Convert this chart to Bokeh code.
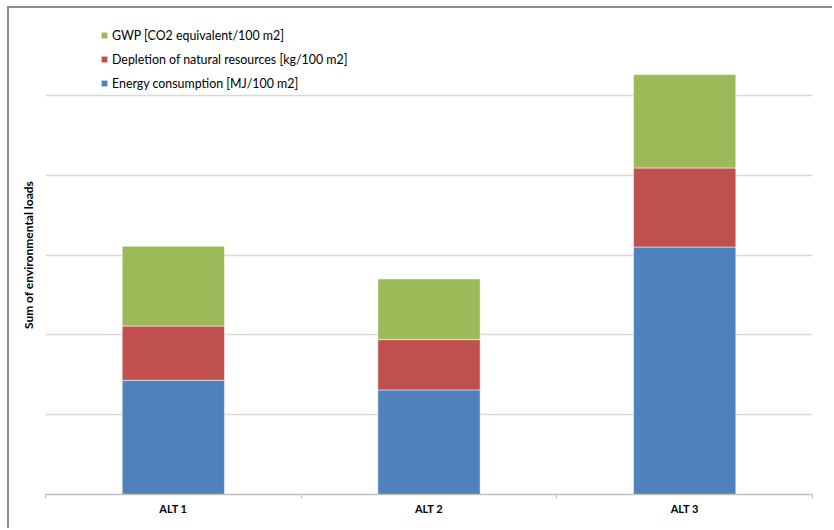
from bokeh.plotting import figure
from bokeh.models import Range1d, FixedTicker, Legend, LegendItem
from bokeh.embed import file_html
from bokeh.resources import INLINE

categories = ["ALT 1", "ALT 2", "ALT 3"]
energy = [1.43, 1.31, 3.10]
depletion = [0.68, 0.63, 0.99]
gwp = [1.00, 0.76, 1.17]
series_names = ["Energy consumption [MJ/100 m2]",
                "Depletion of natural resources [kg/100 m2]",
                "GWP [CO2 equivalent/100 m2]"]
colors = ["#4f81bd", "#c0504d", "#9bbb59"]
grid_ticks = [0, 1, 2, 3, 4, 5, 6]

FONT = "Lato"

xs = [i + 0.5 for i in range(len(categories))]
bounds = [float(i) for i in range(len(categories) + 1)]

p = figure(width=825, height=522, output_backend="svg", toolbar_location=None,
           x_range=Range1d(0, len(categories)), y_range=Range1d(grid_ticks[0], grid_ticks[-1]),
           min_border_left=36, min_border_right=22, min_border_top=7, min_border_bottom=36,
           outline_line_color=None)
p.margin = (6, 0, 0, 7)
p.styles = {"border-left": "2px solid #8c8c8c", "border-top": "2px solid #8c8c8c"}

data = dict(x=xs, energy=energy, depletion=depletion, gwp=gwp)
rs = p.vbar_stack(["energy", "depletion", "gwp"], x="x", width=0.4, source=data,
                  color=colors, line_color="#ffffff", line_alpha=0.5, line_width=1)

# axes
xa = p.xaxis[0]
xa.ticker = FixedTicker(ticks=xs, minor_ticks=bounds)
xa.major_label_overrides = {x: c for x, c in zip(xs, categories)}
xa.major_tick_line_color = None
xa.minor_tick_line_color = "#bfbfbf"
xa.minor_tick_in = 0
xa.minor_tick_out = 4
xa.axis_line_color = "#bfbfbf"
xa.axis_line_width = 1.5
xa.major_label_text_font = FONT
xa.major_label_text_font_style = "bold"
xa.major_label_text_font_size = "11px"
xa.major_label_text_color = "#000000"
xa.major_label_standoff = 1

ya = p.yaxis[0]
ya.ticker = FixedTicker(ticks=grid_ticks)
ya.major_label_overrides = {t: "" for t in grid_ticks}
ya.major_tick_line_color = None
ya.minor_tick_line_color = None
ya.axis_line_color = None
ya.axis_label = "Sum of environmental loads"
ya.axis_label_text_font = FONT
ya.axis_label_text_font_style = "bold"
ya.axis_label_text_font_size = "12px"
ya.axis_label_text_color = "#000000"
ya.axis_label_standoff = 4

p.xgrid.grid_line_color = None
p.ygrid.grid_line_color = "#d9d9d9"
p.ygrid.grid_line_width = 1.5

items = [LegendItem(label=series_names[i], renderers=[rs[i]]) for i in (2, 1, 0)]
legend = Legend(items=items, location=(55, 403), orientation="vertical",
                glyph_width=8, glyph_height=8, label_height=16, spacing=8,
                label_standoff=4, padding=0, margin=0,
                background_fill_alpha=0, border_line_color=None,
                label_text_font=FONT, label_text_font_size="12.4px",
                label_text_color="#000000")
p.add_layout(legend, "center")

open("out.html", "w").write(file_html(p, INLINE))
